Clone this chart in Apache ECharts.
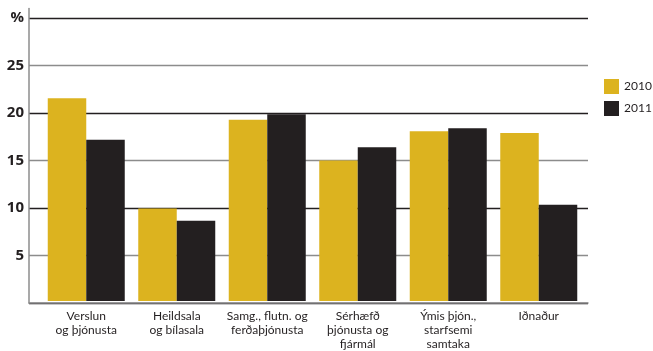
<!DOCTYPE html>
<html><head><meta charset="utf-8">
<script src="https://cdn.jsdelivr.net/npm/echarts@6/dist/echarts.min.js"></script>
<style>html,body{margin:0;padding:0;background:#fff}#c{width:653px;height:351px}</style>
</head><body><div id="c"></div>
<script>
const categories = ['Verslun\nog þjónusta', 'Heildsala\nog bílasala', 'Samg., flutn. og\nferðaþjónusta', 'Sérhæfð\nþjónusta og\nfjármál', 'Ýmis þjón.,\nstarfsemi\nsamtaka', 'Iðnaður'];
const values2010 = [21.5, 9.8, 19.2, 14.9, 18.0, 17.8];
const values2011 = [17.1, 8.5, 19.8, 16.3, 18.3, 10.2];
const seriesNames = ['2010', '2011'];
const yTickLabels = {0: '', 5: '5', 10: '10', 15: '15', 20: '20', 25: '25', 30: '%'};

const ink = '#231f20';
const chart = echarts.init(document.getElementById('c'));
chart.setOption({
  animation: false,
  grid: [
    {left: 29, right: 65, top: 8.5, bottom: 48},
    {left: 41, right: 69, top: 8.5, bottom: 48}
  ],
  legend: {
    orient: 'vertical', left: 604, top: 79, padding: 0, itemWidth: 15, itemHeight: 15, itemGap: 7,
    icon: 'rect', data: seriesNames,
    textStyle: {fontFamily: 'Lato', fontSize: 12, color: ink}
  },
  xAxis: [
    {gridIndex: 0, type: 'category', data: categories, axisLine: {show: true, lineStyle: {color: '#8c8c8c', width: 1.5}},
     axisTick: {show: false}, axisLabel: {show: false}, splitLine: {show: false}},
    {gridIndex: 1, type: 'category', data: categories, axisLine: {show: false}, axisTick: {show: false},
     axisLabel: {interval: 0, margin: 8, fontFamily: 'Lato', fontSize: 12, lineHeight: 14, color: ink, align: 'center'}}
  ],
  yAxis: [
    {gridIndex: 0, type: 'value', min: 0, max: 31, interval: 5,
     axisLine: {show: true, lineStyle: {color: '#8c8c8c', width: 1.5}}, axisTick: {show: false},
     axisLabel: {showMaxLabel: false, margin: 5, fontFamily: 'Open Sans', fontWeight: 'bold', fontSize: 15, color: ink,
       formatter: v => (yTickLabels[v] !== undefined ? yTickLabels[v] : '')},
     splitLine: {show: true, showMaxLine: false, lineStyle: {color: [ink, '#8c8c8c'], width: 1.4}}},
    {gridIndex: 1, type: 'value', min: 0, max: 31, interval: 5, show: false, splitLine: {show: false}}
  ],
  series: [
    {name: seriesNames[0], type: 'bar', xAxisIndex: 1, yAxisIndex: 1, data: values2010, barWidth: 38.5, barGap: '0%',
     itemStyle: {color: '#dcb31f'}},
    {name: seriesNames[1], type: 'bar', xAxisIndex: 1, yAxisIndex: 1, data: values2011, barWidth: 38.5, barGap: '0%',
     itemStyle: {color: ink}}
  ]
});
</script></body></html>
